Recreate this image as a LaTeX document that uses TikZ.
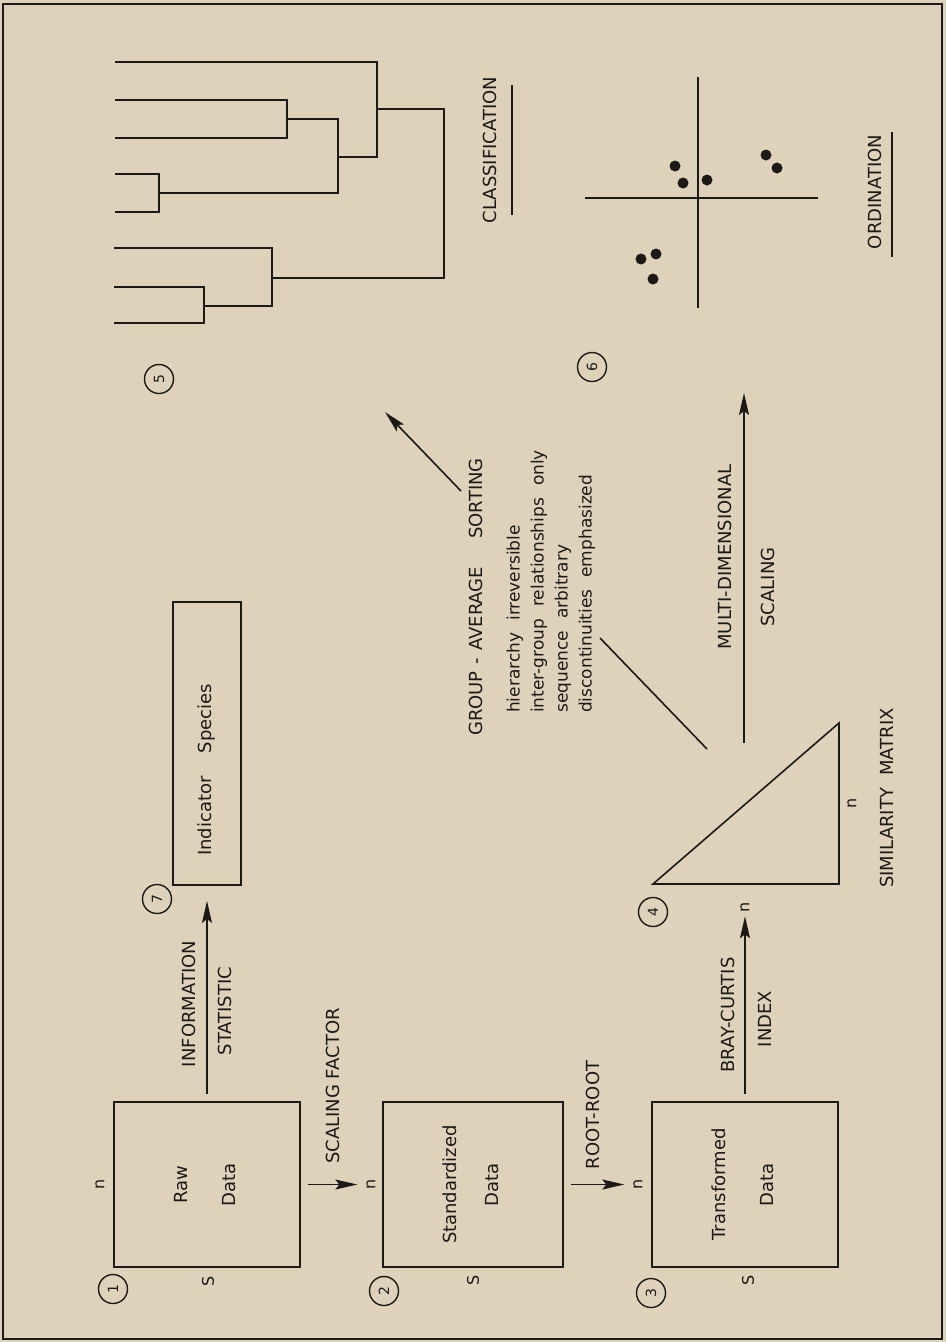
\documentclass[tikz,border=0pt]{standalone}
\usepackage{fontspec}
\setmainfont{DejaVu Sans}
\usepackage{graphicx}
\usetikzlibrary{arrows.meta}
\definecolor{paper}{HTML}{DED2BA}
\definecolor{ink}{HTML}{1C1A17}
\begin{document}
\begin{tikzpicture}[x=1pt,y=-1pt,
  every node/.style={text=ink},
  ln/.style={draw=ink, line width=1.6pt},
  arr/.style={ln, -{Stealth[length=22pt,width=10pt,inset=4pt]}},
  rtext/.style={rotate=90, inner sep=0pt, font=\fontsize{18}{22}\selectfont},
  small/.style={rotate=90, inner sep=1pt, font=\fontsize{16}{19}\selectfont},
  numc/.style={circle, draw=ink, line width=1.4pt, minimum size=29pt, inner sep=0pt, rotate=90, font=\fontsize{14}{16}\selectfont},
  databox/.style={draw=ink, line width=1.8pt, minimum height=165pt, inner sep=0pt, font=\fontsize{18}{22}\selectfont},
]
\fill[paper] (0,0) rectangle (946,1342);
\useasboundingbox (0,0) rectangle (946,1342);
\draw[ink, line width=2pt] (3,4) rectangle (942,1339);

% data boxes
\node[databox, minimum width=186pt] (b1) at (207,1184.5) {\rotatebox{90}{\begin{tabular}{@{}c@{}}Raw\\[26pt]Data\end{tabular}}};
\node[databox, minimum width=180pt] (b2) at (473,1184.5) {\rotatebox{90}{\begin{tabular}{@{}c@{}}Standardized\\[20pt]Data\end{tabular}}};
\node[databox, minimum width=186pt] (b3) at (745,1184.5) {\rotatebox{90}{\begin{tabular}{@{}c@{}}Transformed\\[26pt]Data\end{tabular}}};

% dimension labels
\node[small] (n1) at (100,1184.5) {n};
\node[small] (s1) at (208,1281) {S};
\node[small] (n2) at (371,1184.5) {n};
\node[small] (s2) at (473,1280) {S};
\node[small] (n3) at (638,1184.5) {n};
\node[small] (s3) at (748,1280) {S};
\node[small] (n4) at (745,907) {n};
\node[small] (n5) at (852,803) {n};

% circled numbers
\node[numc] (c1) at (113,1289) {1};
\node[numc] (c2) at (384,1291) {2};
\node[numc] (c3) at (651,1293) {3};
\node[numc] (c4) at (653,912) {4};
\node[numc] (c5) at (159,379) {5};
\node[numc] (c6) at (592,367) {6};
\node[numc] (c7) at (157,899) {7};

% indicator species
\node[draw=ink, line width=1.8pt, minimum width=68pt, minimum height=283pt, inner sep=0pt] (ind) at (207,743.5) {};
\node[rtext] (indt) at (207,770) {Indicator\hspace{23pt}Species};

% arrows between data steps
\draw[arr, shorten <=7pt, shorten >=8pt] (b1.east) -- (n2);
\node[rtext] (lsf) at (333,1086) {SCALING FACTOR};
\draw[arr, shorten <=7pt, shorten >=8pt] (b2.east) -- (n3);
\node[rtext] (lrr) at (593,1115) {ROOT-ROOT};
\draw[arr, shorten <=7pt, shorten >=15pt] (b1.north) -- (ind.south);
\node[rtext] (linf) at (189,1004) {INFORMATION};
\node[rtext] (lsta) at (225,1011) {STATISTIC};
\draw[arr, shorten <=7pt, shorten >=3pt] (b3.north) -- (n4);
\node[rtext] (lbc) at (728,1015) {BRAY-CURTIS};
\node[rtext] (lidx) at (765,1019) {INDEX};

% similarity matrix
\coordinate (t1) at (653,884);
\coordinate (t2) at (839,884);
\coordinate (t3) at (839,723);
\draw[ln] (t1) -- (t2) -- (t3) -- cycle;
\node[rtext] (lsim) at (887,798) {SIMILARITY\hspace{12pt}MATRIX};

% MDS arrow
\coordinate (mdsS) at (744,743);
\coordinate (mdsE) at (744,393);
\draw[arr] (mdsS) -- (mdsE);
\node[rtext] (lmds) at (725,557) {MULTI-DIMENSIONAL};
\node[rtext] (lsc) at (768,587) {SCALING};

% group average sorting
\coordinate (gasS) at (461,491);
\coordinate (gasE) at (385,412);
\draw[arr] (gasS) -- (gasE);
\node[rtext] (lgas) at (476,597) {GROUP\hspace{7pt}-\hspace{7pt}AVERAGE\hspace{28pt}SORTING};
\node[rotate=90, anchor=west, align=left, inner sep=0pt, font=\fontsize{17}{24}\selectfont] (gtxt) at (551,713)
  {hierarchy\hspace{12pt}irreversible\\inter-group\hspace{12pt}relationships\hspace{12pt}only\\sequence\hspace{12pt}arbitrary\\discontinuities\hspace{12pt}emphasized};
\coordinate (dS) at (707,749);
\coordinate (dE) at (600,638);
\draw[ln] (dS) -- (dE);

% dendrogram
\draw[ln] (115,100) -| (287,138) -- (115,138);
\draw[ln] (115,174) -| (159,212) -- (115,212);
\draw[ln] (114,287) -| (204,323) -- (114,323);
\draw[ln] (287,119) -| (338,193) -- (159,193);
\draw[ln] (115,62) -| (377,157) -- (338,157);
\draw[ln] (114,248) -| (272,306) -- (204,306);
\draw[ln] (377,109) -| (444,278) -- (272,278);
\node[rtext] (lcls) at (490,150) {CLASSIFICATION};
\draw[ln] (512,85) -- (512,215);

% ordination
\draw[ln] (585,198) -- (818,198);
\draw[ln] (698,77) -- (698,308);
\foreach \p in {(675,166),(683,183),(707,180),(766,155),(777,168),(656,254),(641,259),(653,279)}
  \fill[ink] \p circle[radius=5.5pt];
\node[rtext] (lord) at (875,192) {ORDINATION};
\draw[ln] (892,132) -- (892,257);
\end{tikzpicture}
\end{document}
